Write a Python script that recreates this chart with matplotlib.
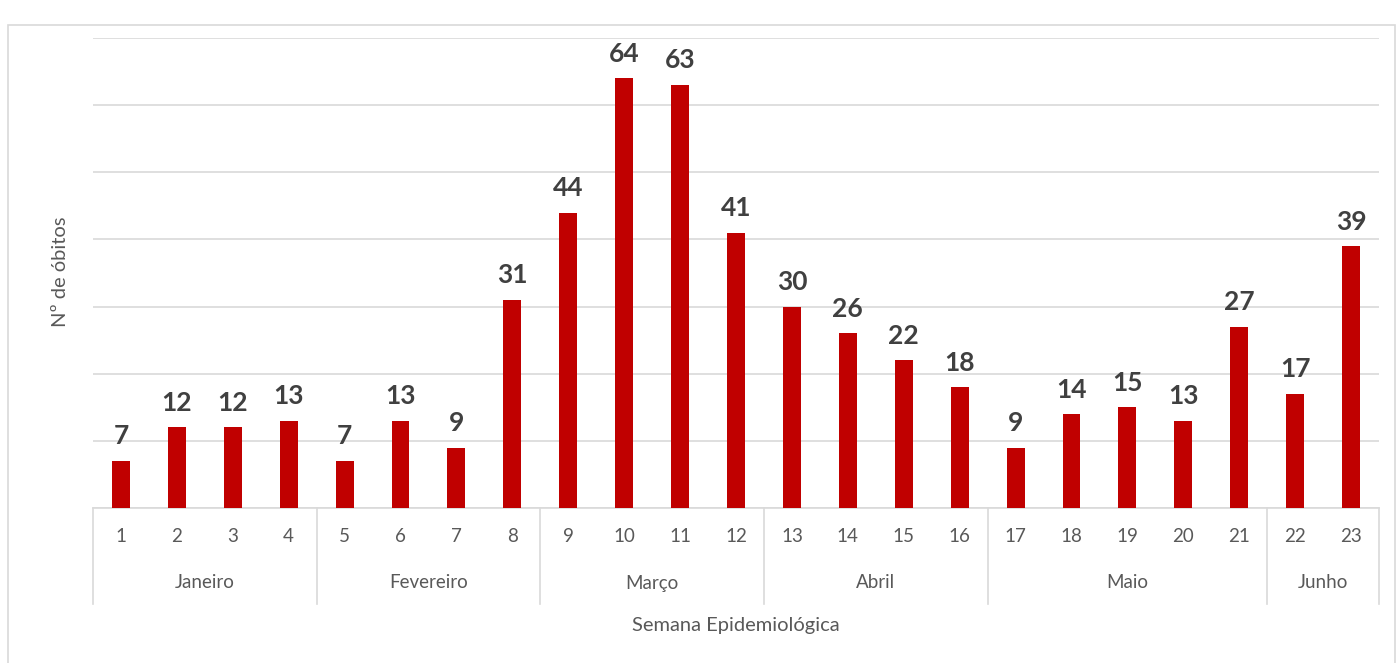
import numpy as np
import matplotlib
matplotlib.use('Agg')
import matplotlib.pyplot as plt
from matplotlib.patches import Rectangle

# weekly deaths (semana epidemiologica 1..23)
weeks = [str(i) for i in range(1, 24)]
deaths = [7, 12, 12, 13, 7, 13, 9, 31, 44, 64, 63, 41, 30, 26, 22, 18,
          9, 14, 15, 13, 27, 17, 39]
months = ['Janeiro', 'Fevereiro', 'Março', 'Abril', 'Maio', 'Junho']
month_weeks = [4, 4, 4, 4, 5, 2]

plt.rcParams['font.family'] = ['Lato', 'DejaVu Sans']

W, H = 1399, 663
fig = plt.figure(figsize=(W / 100, H / 100), dpi=100)
fig.patch.set_facecolor('white')

# outer chart frame
fig.patches.append(Rectangle((8 / W, -0.05), (1395 - 8) / W, (H - 25) / H + 0.05,
                             transform=fig.transFigure, fill=False,
                             edgecolor='#D9D9D9', lw=1.2))

ax = fig.add_axes([93 / W, (H - 508) / H, (1379 - 93) / W, (508 - 38) / H])
x = np.arange(len(weeks))
bars = ax.bar(x, deaths, width=0.32, color='#C00000', zorder=3)

ax.set_xlim(-0.5, len(weeks) - 0.5)
ax.set_ylim(0, 70)
ax.set_yticks(np.arange(0, 71, 10))
ax.yaxis.grid(True, color='#D9D9D9', lw=1.2, zorder=0)
ax.tick_params(axis='y', left=False, labelleft=False)
ax.set_xticks([])
for s in ['top', 'right', 'left']:
    ax.spines[s].set_visible(False)
ax.spines['bottom'].set_color('#D9D9D9')
ax.spines['bottom'].set_linewidth(1.2)

for xi, v in zip(x, deaths):
    ax.annotate(str(v), (xi, v), xytext=(0, 9), textcoords='offset points',
                ha='center', va='bottom', fontsize=19, fontweight='bold',
                color='#404040')

# week numbers and month groups below the axis
trans = ax.get_xaxis_transform()
for xi, w in zip(x, weeks):
    ax.text(xi, -29 / 470, w, transform=trans, ha='center', va='center',
            fontsize=13.5, color='#595959')

edges = np.concatenate([[0], np.cumsum(month_weeks)]) - 0.5
for i, m in enumerate(months):
    ax.text((edges[i] + edges[i + 1]) / 2, -75 / 470, m, transform=trans,
            ha='center', va='center', fontsize=13.5, color='#595959')
for e in edges:
    ax.plot([e, e], [0, -96 / 470], transform=trans, color='#D9D9D9',
            lw=1.2, clip_on=False)

ax.text(0.5, -118 / 470, 'Semana Epidemiológica', transform=ax.transAxes,
        ha='center', va='center', fontsize=14.5, color='#595959')
fig.text(60 / W, 1 - 272 / H, 'Nº de óbitos', rotation=90, ha='center',
         va='center', fontsize=14.5, color='#595959')

fig.savefig('out.png', dpi=100)
